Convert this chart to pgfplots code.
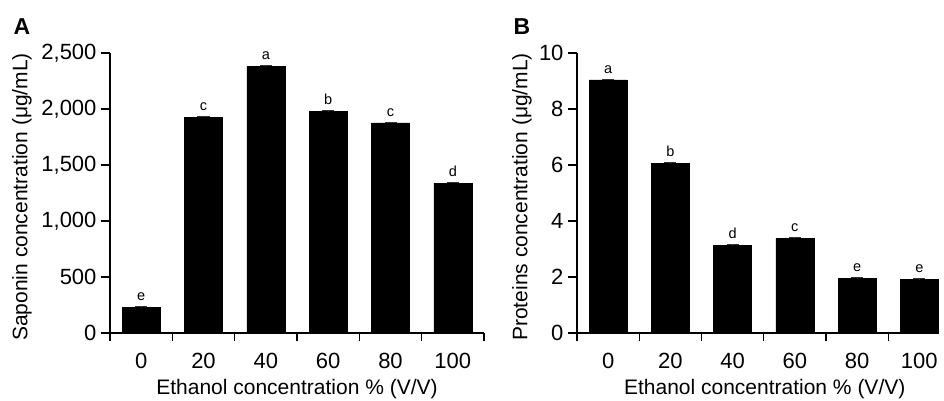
\documentclass[border=0pt]{standalone}
\usepackage{fontspec}
\setmainfont{Liberation Sans}
\usepackage{pgfplots}
\usepackage{pgfplotstable}
\pgfplotsset{compat=1.18}

\pgfplotstableread{
x y err lab
0 228 8 e
1 1926 8 c
2 2380 8 a
3 1978 6 b
4 1876 6 c
5 1338 8 d
}\saponin

\pgfplotstableread{
x y err lab
0 9.04 0.02 a
1 6.06 0.02 b
2 3.14 0.02 d
3 3.38 0.02 c
4 1.95 0.02 e
5 1.92 0.02 e
}\proteins

\pgfplotsset{
  panel/.style={
    scale only axis,
    height=280pt,
    axis lines*=left,
    axis line style={black, line width=1.2pt},
    ymin=0,
    xmin=-0.5,
    xtick={0,1,2,3,4,5},
    xticklabels={0,20,40,60,80,100},
    major x tick style={draw=none},
    minor x tick num=0,
    tick align=outside,
    xtick pos=bottom, ytick pos=left,
    major tick length=9pt,
    minor tick length=8pt,
    tick style={black, line width=1.2pt},
    every tick label/.append style={font=\fontsize{22}{26}\selectfont},
    /pgf/number format/assume math mode=true,
    /pgf/number format/1000 sep={,},
    label style={font=\fontsize{21}{25}\selectfont},
    xlabel={Ethanol concentration \% (V/V)},
    xticklabel style={anchor=north, yshift=-8pt},
    yticklabel style={anchor=east, xshift=-1pt},
    ybar, bar width=38pt,
    clip=false,
  },
}

\begin{document}
\begin{tikzpicture}[x=1pt,y=1pt]
\path[use as bounding box] (0,0) rectangle (944,400);

\begin{axis}[panel,
  at={(110pt,67pt)}, anchor=south west,
  width=374pt,
  xmax=5.5,
  minor xtick={-0.5,0.5,1.5,2.5,3.5,4.5,5.5},
  ymax=2500,
  ytick={0,500,1000,1500,2000,2500},
  ylabel={Saponin concentration (μg/mL)},
  ylabel style={at={(axis description cs:-0.2353,0.486)}, anchor=center},
  xlabel style={at={(axis description cs:0.5,-0.2)}, anchor=center},
]
\addplot[fill=black, draw=black,
  nodes near coords, point meta=explicit symbolic,
  nodes near coords style={font=\fontsize{14.5}{17}\selectfont, anchor=south, yshift=3pt},
  error bars/.cd, y dir=plus, y explicit,
  error bar style={black!80, line width=1pt},
  error mark options={rotate=90, mark size=6pt, black!80, line width=1pt}]
  table[x=x, y=y, y error=err, meta=lab] {\saponin};
\end{axis}

\begin{axis}[panel,
  at={(577pt,67pt)}, anchor=south west,
  width=361pt,
  xmax=5.3,
  minor xtick={-0.5,0.5,1.5,2.5,3.5,4.5},
  ymax=10,
  ytick={0,2,4,6,8,10},
  ylabel={Proteins concentration (μg/mL)},
  ylabel style={at={(axis description cs:-0.1524,0.486)}, anchor=center},
  xlabel style={at={(axis description cs:0.52,-0.2)}, anchor=center},
]
\addplot[fill=black, draw=black,
  nodes near coords, point meta=explicit symbolic,
  nodes near coords style={font=\fontsize{14.5}{17}\selectfont, anchor=south, yshift=3pt},
  error bars/.cd, y dir=plus, y explicit,
  error bar style={black!80, line width=1pt},
  error mark options={rotate=90, mark size=6pt, black!80, line width=1pt}]
  table[x=x, y=y, y error=err, meta=lab] {\proteins};
\end{axis}

\node[font=\fontsize{23}{26}\selectfont\bfseries] at (22,373) {A};
\node[font=\fontsize{23}{26}\selectfont\bfseries] at (522,373) {B};
\end{tikzpicture}
\end{document}
